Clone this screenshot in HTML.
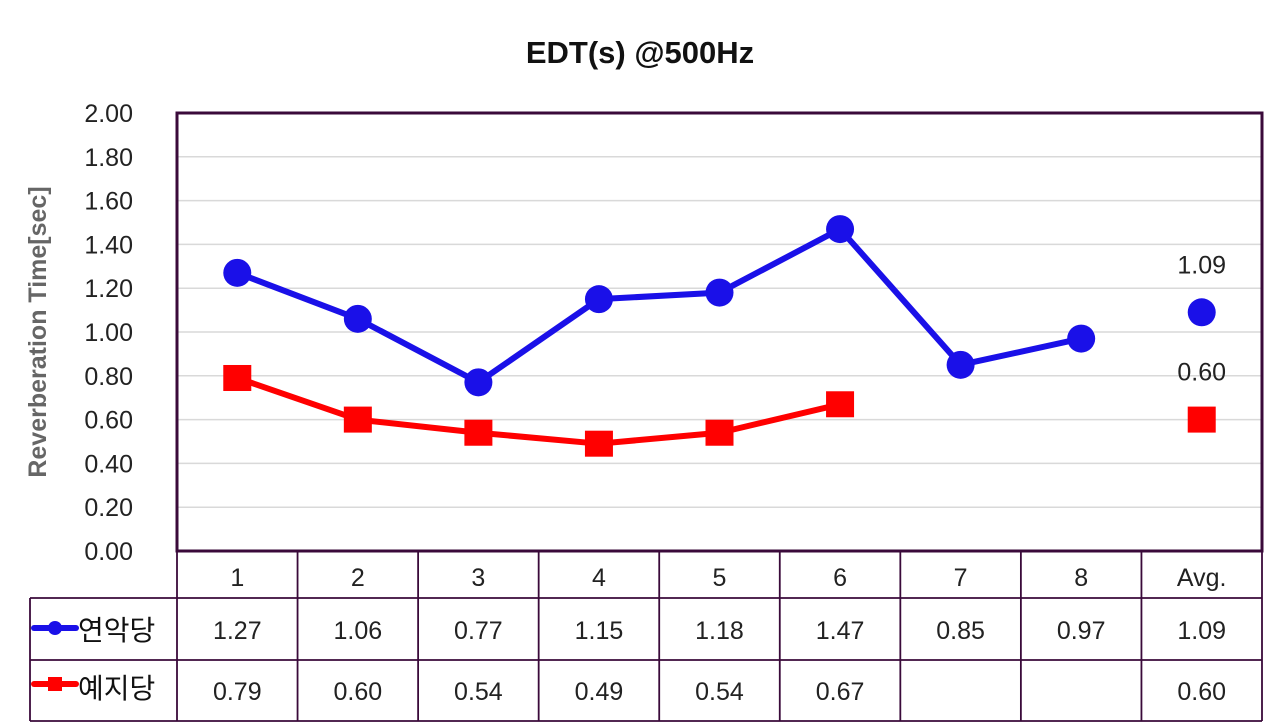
<!DOCTYPE html>
<html><head><meta charset="utf-8"><style>
html,body{margin:0;padding:0;background:#fff;}
svg{display:block;font-family:"Liberation Sans","Noto Sans CJK KR",sans-serif;}
</style></head><body>
<svg id="chart" width="1280" height="728" viewBox="0 0 1280 728">
<text x="640" y="63" text-anchor="middle" font-size="31" font-weight="bold" fill="#111">EDT(s)  @500Hz</text>
<text transform="translate(46,332) rotate(-90)" text-anchor="middle" font-size="25" font-weight="bold" fill="#666">Reverberation Time[sec]</text>
<g id="grid"></g><g id="marks"></g><g id="table"></g>
</svg>
<script>
const categories=["1","2","3","4","5","6","7","8","Avg."];
const seriesNames=["연악당","예지당"];
const yeonak=[1.27,1.06,0.77,1.15,1.18,1.47,0.85,0.97,1.09];
const yeji=[0.79,0.60,0.54,0.49,0.54,0.67,null,null,0.60];
const yTicks=[0,0.2,0.4,0.6,0.8,1.0,1.2,1.4,1.6,1.8,2.0];
const NS="http://www.w3.org/2000/svg";
const L=177,R=1262,T=113,B=551,W=(R-L)/categories.length;
const x=i=>L+W*(i+0.5);
const y=v=>B-(v/2)*(B-T);
function mk(tag,attrs,parent,txt){const e=document.createElementNS(NS,tag);for(const k in attrs)e.setAttribute(k,attrs[k]);if(txt!=null)e.textContent=txt;parent.appendChild(e);return e;}
const grid=document.getElementById('grid'),marks=document.getElementById('marks'),table=document.getElementById('table');
yTicks.forEach(t=>{
 const g=mk('line',{x1:L,x2:R,y1:y(t),y2:y(t),stroke:'#d9d9d9','stroke-width':1.5},grid);
 
 
 const lb=mk('text',{x:133,y:y(t)+9,'text-anchor':'end','font-size':25,fill:'#222'},grid,t.toFixed(2));
 
 
});
const frame=mk('rect',{x:L,y:T,width:R-L,height:B-T,fill:'none',stroke:'#3a0a3a','stroke-width':3},grid);


function linePath(arr,lastIdx){let d='';arr.forEach((v,i)=>{if(v==null||i>lastIdx)return;d+=(d?'L':'M')+x(i)+','+y(v);});return d;}
const p1=mk('path',{d:linePath(yeonak,7),fill:'none',stroke:'#1a10e8','stroke-width':6,'stroke-linejoin':'round'},marks);


const p2=mk('path',{d:linePath(yeji,7),fill:'none',stroke:'#f00','stroke-width':6,'stroke-linejoin':'round'},marks);


yeonak.forEach((v,i)=>{const c=mk('circle',{cx:x(i),cy:y(v),r:14,fill:'#1a10e8'},marks);
 
 });
yeji.forEach((v,i)=>{if(v==null)return;const r=mk('rect',{x:x(i)-14,y:y(v)-13,width:28,height:26,fill:'#f00'},marks);
 
 });
const last=categories.length-1;
const a1=mk('text',{x:x(last),y:y(yeonak[last])-39,'text-anchor':'middle','font-size':25,fill:'#222'},marks,yeonak[last].toFixed(2));


const a2=mk('text',{x:x(last),y:y(yeji[last])-39,'text-anchor':'middle','font-size':25,fill:'#222'},marks,yeji[last].toFixed(2));


// table
const rows=[553,598,660,721],LX=30,col='#3a0a3a';
function ln(x1,y1,x2,y2){const e=mk('line',{x1,y1,x2,y2,stroke:col,'stroke-width':1.8},table);
 
 }
for(let i=0;i<=categories.length;i++)ln(L+W*i,B,L+W*i,721);
ln(LX,598,LX,721);
ln(LX,598,R,598);ln(LX,660,R,660);ln(LX,721,R,721);
categories.forEach((c,i)=>{const t=mk('text',{x:x(i),y:586,'text-anchor':'middle','font-size':25,fill:'#222'},table,c);
 
 });
[[yeonak,639],[yeji,700]].forEach(([arr,yy])=>arr.forEach((v,i)=>{if(v==null)return;
 const t=mk('text',{x:x(i),y:yy,'text-anchor':'middle','font-size':25,fill:'#222'},table,v.toFixed(2));
 
 }));
// legend keys
const k1=mk('line',{x1:34,x2:76,y1:628,y2:628,stroke:'#1a10e8','stroke-width':6,'stroke-linecap':'round'},table);


mk('circle',{cx:55,cy:628,r:7,fill:'#1a10e8'},table);
const k2=mk('line',{x1:34,x2:76,y1:684,y2:684,stroke:'#f00','stroke-width':6,'stroke-linecap':'round'},table);


mk('rect',{x:48,y:677,width:14,height:14,fill:'#f00'},table);
const n1=mk('text',{x:78,y:640,'font-size':28,fill:'#111'},table,seriesNames[0]);


const n2=mk('text',{x:78,y:698,'font-size':28,fill:'#111'},table,seriesNames[1]);


</script>
</body></html>
